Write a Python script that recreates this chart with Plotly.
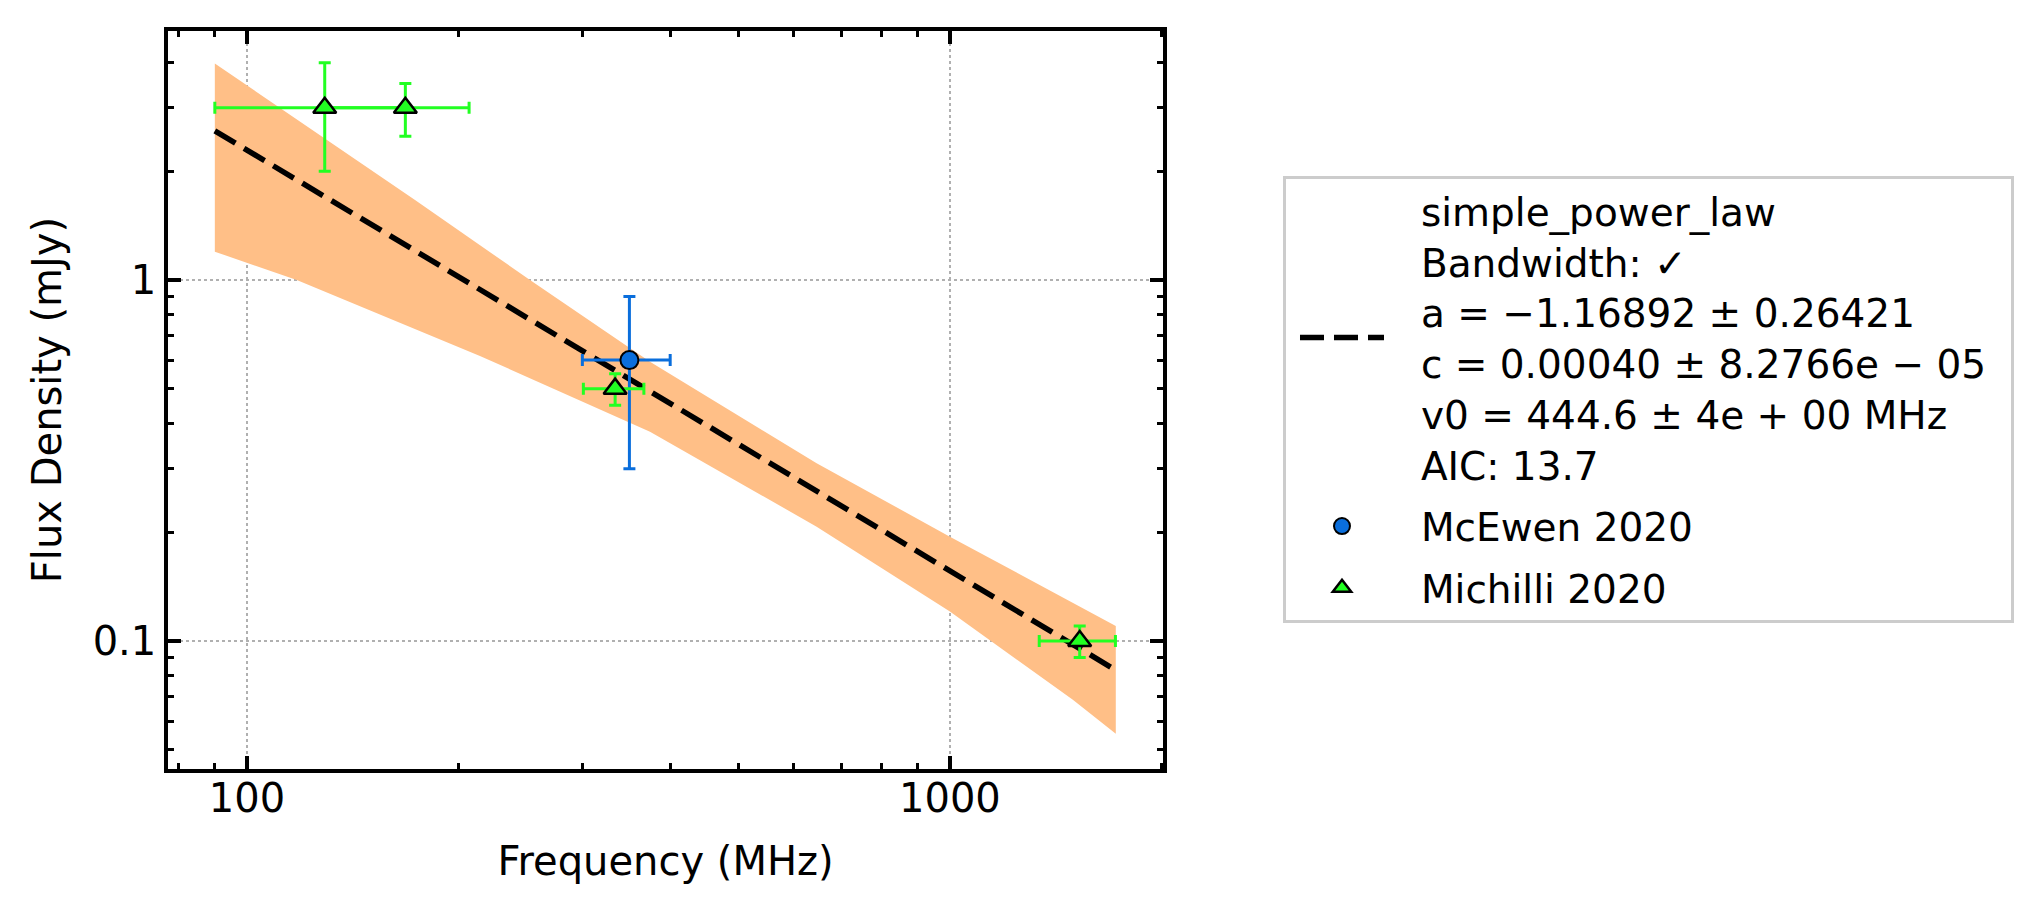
import math
import plotly.graph_objects as go

# ---- data ----
fit_freq = [90, 1720]
fit_flux = [2.59, 0.0831]

band_up_freq = [90, 173.4, 252.7, 374.4, 646.3, 1000, 1722]
band_up_flux = [3.98, 1.666, 1.0, 0.594, 0.3106, 0.1945, 0.110]
band_lo_freq = [90, 117.7, 214.5, 374.4, 646.3, 1000, 1496, 1722]
band_lo_flux = [1.198, 1.0, 0.616, 0.380, 0.2073, 0.1206, 0.0687, 0.0553]

mcewen_freq = [350]
mcewen_flux = [0.6]
mcewen_ferr = [0.3]
mcewen_xerr = [50]

michilli_freq = [129, 168, 334, 1530]
michilli_flux = [3.0, 3.0, 0.5, 0.1]
michilli_ferr = [1.0, 0.5, 0.05, 0.01]
michilli_xerr = [39, 39, 33, 190]

x_major = [100, 1000]
x_major_text = ["100", "1000"]
x_minor = [80, 90, 200, 300, 400, 500, 600, 700, 800, 900, 2000]
y_major = [0.1, 1]
y_major_text = ["0.1", "1"]
y_minor = [0.05, 0.06, 0.07, 0.08, 0.09, 0.2, 0.3, 0.4, 0.5, 0.6, 0.7, 0.8, 0.9, 2, 3, 4]

fit_lines = ["simple_power_law", "Bandwidth: ✓", "a = −1.16892 ± 0.26421",
             "c = 0.00040 ± 8.2766e − 05", "v0 = 444.6 ± 4e + 00 MHz", "AIC: 13.7"]
mcewen_label = "McEwen 2020"
michilli_label = "Michilli 2020"

PAD = "\u2002\u00a0"   # lead-in so legend text sits where the reference has it
TAIL = "\u2002"
fit_label = "<br>".join(PAD + s + TAIL for s in fit_lines)

BLUE = "#0a6edc"
GREEN = "#22ff22"
FONT = "DejaVu Sans"

fig = go.Figure()

fig.add_trace(go.Scatter(
    x=band_up_freq + band_lo_freq[::-1],
    y=band_up_flux + band_lo_flux[::-1],
    fill="toself", fillcolor="#ffbf87", mode="lines",
    line=dict(width=0, color="#ffbf87"), showlegend=False, hoverinfo="skip"))

fig.add_trace(go.Scatter(
    x=fit_freq, y=fit_flux, mode="lines", name=fit_label, legendgroup="fit",
    line=dict(color="black", width=5.5, dash="24px,10px")))

fig.add_trace(go.Scatter(
    x=mcewen_freq, y=mcewen_flux, mode="markers", name=PAD + mcewen_label, legendgroup="mc",
    marker=dict(symbol="circle", size=18, color=BLUE, line=dict(color="black", width=2)),
    error_y=dict(type="data", array=mcewen_ferr, color=BLUE, thickness=3, width=6),
    error_x=dict(type="data", array=mcewen_xerr, color=BLUE, thickness=3, width=6)))

fig.add_trace(go.Scatter(
    x=michilli_freq, y=michilli_flux, mode="markers", name=PAD + michilli_label, legendgroup="mi",
    marker=dict(symbol="triangle-up", size=20, color=GREEN, line=dict(color="black", width=2.5)),
    error_y=dict(type="data", array=michilli_ferr, color=GREEN, thickness=3, width=6),
    error_x=dict(type="data", array=michilli_xerr, color=GREEN, thickness=3, width=6)))

axis_common = dict(
    showline=True, linecolor="black", linewidth=3.5, mirror="allticks",
    ticks="inside", ticklen=13, tickwidth=3.5, tickcolor="black",
    showgrid=True, gridcolor="#b0b0b0", griddash="dot", gridwidth=2,
    zeroline=False, tickfont=dict(family=FONT, size=40, color="black"),
)

fig.update_xaxes(
    type="log", range=[math.log10(77.2), math.log10(2010)],
    tickmode="array", tickvals=x_major, ticktext=x_major_text,
    ticklabelstandoff=-9,
    minor=dict(tickmode="array", tickvals=x_minor, ticks="inside", ticklen=6.5,
               tickwidth=2.5, tickcolor="black", showgrid=False),
    title=dict(text="Frequency (MHz)", font=dict(family=FONT, size=40, color="black"), standoff=28),
    **axis_common)
fig.update_yaxes(
    type="log", range=[math.log10(0.04418), math.log10(4.896)],
    tickmode="array", tickvals=y_major, ticktext=y_major_text,
    minor=dict(tickmode="array", tickvals=y_minor, ticks="inside", ticklen=6.5,
               tickwidth=2.5, tickcolor="black", showgrid=False),
    title=dict(text="Flux Density (mJy)", font=dict(family=FONT, size=40, color="black"), standoff=20),
    **axis_common)

fig.update_layout(
    width=2040, height=914,
    margin=dict(l=168, r=877, t=31, b=145, autoexpand=False),
    plot_bgcolor="white", paper_bgcolor="white",
    font=dict(family=FONT, size=40, color="black"),
    legend=dict(x=1.1206, y=0.8035, xanchor="left", yanchor="top",
                bordercolor="#cccccc", borderwidth=3, bgcolor="white",
                font=dict(family=FONT, size=39, color="black"),
                itemwidth=84, indentation=9, tracegroupgap=8, valign="middle"),
)

fig.write_html("out.html")
